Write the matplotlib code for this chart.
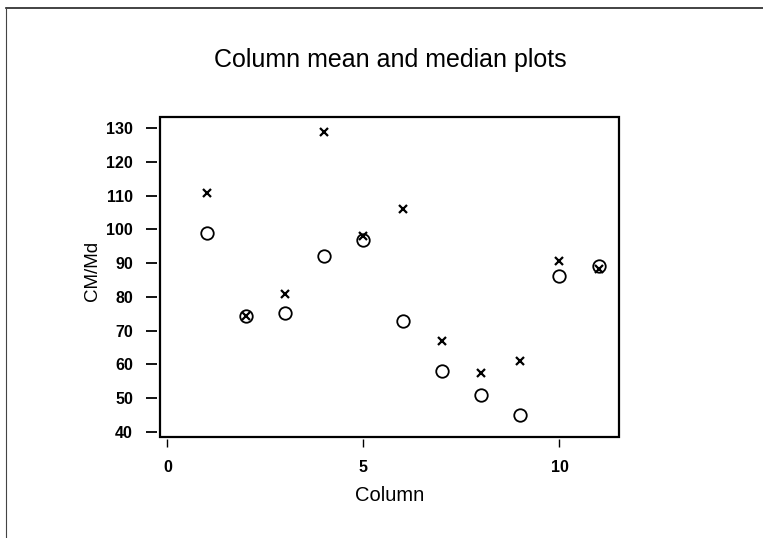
import matplotlib
matplotlib.use("Agg")
import matplotlib.pyplot as plt
from matplotlib.patches import Rectangle
from matplotlib.lines import Line2D

plt.rcParams['font.family'] = ['Liberation Sans', 'DejaVu Sans']

columns = [1, 2, 3, 4, 5, 6, 7, 8, 9, 10, 11]
col_means = [110.7, 74.3, 80.8, 128.9, 98.0, 106.1, 67.0, 57.4, 61.1, 90.7, 88.2]
col_medians = [98.8, 74.3, 75.1, 92.1, 96.8, 73.0, 58.2, 51.0, 45.0, 86.2, 89.1]
y_ticks = [40, 50, 60, 70, 80, 90, 100, 110, 120, 130]
x_ticks = [0, 5, 10]

fig = plt.figure(figsize=(7.63, 5.38), dpi=100)
ax = fig.add_axes([0.2097, 0.1883, 0.6016, 0.5937])

ax.plot(columns, col_medians, linestyle='none', marker='o', markersize=9,
        markerfacecolor='none', markeredgecolor='black', markeredgewidth=1.3)
ax.plot(columns, col_means, linestyle='none', marker='x', markersize=5.5,
        color='black', markeredgewidth=1.6)

ax.set_xlim(-0.19, 11.52)
ax.set_ylim(38.6, 133.2)
ax.set_xticks(x_ticks)
ax.set_yticks(y_ticks)

# ticks sit slightly away from the frame
for side in ('top', 'right'):
    ax.spines[side].set_visible(False)
ax.spines['left'].set_position(('outward', 2.5))
ax.spines['bottom'].set_position(('outward', 1.5))
ax.spines['left'].set_color('none')
ax.spines['bottom'].set_color('none')
ax.add_patch(Rectangle((0, 0), 1, 1, transform=ax.transAxes, fill=False,
                       edgecolor='black', linewidth=1.6, clip_on=False, zorder=5))

ax.tick_params(axis='y', direction='out', length=8, width=1.3, pad=9,
               labelsize=11.5, colors='black')
ax.tick_params(axis='x', direction='out', length=6, width=1.0, pad=9,
               labelsize=11.5, colors='black')
for lab in ax.get_yticklabels() + ax.get_xticklabels():
    lab.set_fontweight('bold')

ax.set_xlabel('Column', fontsize=14.5, labelpad=8)
ax.set_ylabel('CM/Md', fontsize=13.5)
ax.yaxis.set_label_coords(-0.128, 0.52)

fig.text(0.511, 0.888, 'Column mean and median plots', ha='center', va='center',
         fontsize=18)

# page border along the top and left
fig.add_artist(Line2D([6 / 763, 1], [1 - 8 / 538, 1 - 8 / 538],
                      transform=fig.transFigure, color='#222222', linewidth=1.2))
fig.add_artist(Line2D([6 / 763, 6 / 763], [0, 1 - 8 / 538],
                      transform=fig.transFigure, color='#444444', linewidth=0.8))

fig.savefig('out.png', dpi=100)
